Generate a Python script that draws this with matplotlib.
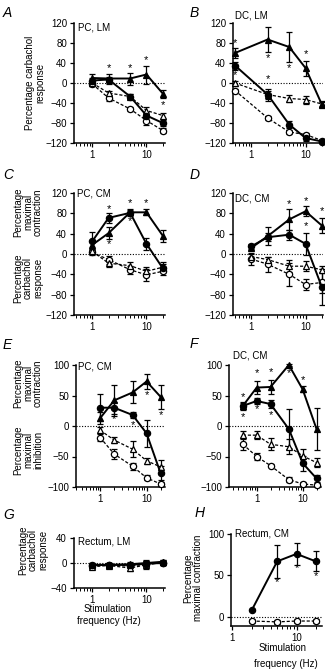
import numpy as np
import matplotlib.pyplot as plt
from matplotlib.ticker import LogLocator, FixedLocator, NullFormatter

plt.rcParams['font.family'] = ['Liberation Sans', 'DejaVu Sans']
plt.rcParams['font.size'] = 7

W, H = 325, 672

# ---- data ----
# series order: filled triangle (solid), filled circle (solid), open triangle (dashed), open circle (dashed)
a_x = [1, 2, 5, 10, 20]
a_ftri = [10, 9, 9, 17, -21];       a_ftri_err = [8, 10, 12, 18, 8]
a_fcirc = [5, 7, -27, -65, -80];    a_fcirc_err = [6, 6, 5, 8, 6]
a_otri = [0, -20, -27, -55, -65];   a_otri_err = [5, 5, 5, 8, 6]
a_ocirc = [-2, -30, -52, -75, -95]; a_ocirc_err = [4, 6, 4, 8, 5]
a_star_x = [2, 5, 10, 20]
a_star_y = [30, 30, 45, -45]

b_x = [0.5, 2, 5, 10, 20]
b_ftri = [60, 87, 72, 30, -43];       b_ftri_err = [10, 25, 30, 15, 5]
b_fcirc = [35, -23, -83, -110, -117]; b_fcirc_err = [8, 12, 7, 5, 3]
b_otri = [0, -23, -31, -33, -42];     b_otri_err = [5, 8, 7, 8, 6]
b_ocirc = [-15, -70, -98, -103, -115]; b_ocirc_err = [4, 4, 4, 4, 3]
b_star_x = [0.5, 0.5, 2, 2, 5, 10]
b_star_y = [80, 15, 50, 8, 30, 57]

c_x = [1, 2, 5, 10, 20]
c_ftri = [18, 41, 82, 82, 36];       c_ftri_err = [8, 12, 7, 6, 12]
c_fcirc = [25, 71, 81, 20, -28];     c_fcirc_err = [18, 10, 5, 12, 8]
c_otri = [5, -18, -23, -34, -26];    c_otri_err = [5, 8, 8, 8, 10]
c_ocirc = [3, -11, -31, -41, -34];   c_ocirc_err = [5, 8, 8, 12, 8]
c_star_x = [2, 2, 5, 5, 10]
c_star_y = [88, 20, 100, 64, 100]

d_x = [1, 2, 5, 10, 20]
d_ftri = [12, 35, 68, 84, 56];       d_ftri_err = [5, 18, 20, 10, 15]
d_fcirc = [15, 33, 38, 20, -65];     d_fcirc_err = [5, 8, 10, 22, 35]
d_otri = [-5, -11, -24, -24, -31];   d_otri_err = [5, 6, 12, 10, 7]
d_ocirc = [-10, -20, -40, -60, -56]; d_ocirc_err = [12, 15, 22, 10, 20]
d_star_x = [5, 10, 10, 20]
d_star_y = [98, 104, 54, 84]

e_x = [1, 2, 5, 10, 20]
e_ftri = [13, 42, 55, 73, 48];       e_ftri_err = [10, 25, 18, 12, 20]
e_fcirc = [30, 30, 18, -12, -77];    e_fcirc_err = [22, 10, 5, 22, 12]
e_otri = [-7, -23, -38, -57, -67];   e_otri_err = [5, 5, 13, 5, 12]
e_ocirc = [-19, -46, -66, -85, -95]; e_ocirc_err = [6, 8, 6, 4, 4]
e_star_x = [2, 5, 10, 20]
e_star_y = [11, 2, 51, 18]

f_x = [0.5, 1, 2, 5, 10, 20]
f_ftri = [33, 63, 64, 100, 60, -5];       f_ftri_err = [5, 10, 12, 2, 5, 35]
f_fcirc = [33, 41, 36, -5, -61, -86];     f_fcirc_err = [7, 5, 7, 33, 12, 6]
f_otri = [-15, -15, -30, -34, -49, -60];  f_otri_err = [6, 7, 10, 12, 12, 8]
f_ocirc = [-30, -50, -65, -88, -95, -97]; f_ocirc_err = [10, 5, 3, 4, 3, 3]
f_star_x = [0.5, 0.5, 1, 1, 2, 2, 5, 10]
f_star_y = [48, 15, 87, 27, 89, 18, 86, 75]

g_x = [1, 2, 5, 10, 20]
g_ftri = [-3, -3, -2, 0, 2];    g_ftri_err = [3, 3, 3, 5, 3]
g_fcirc = [-3, -3, -3, -1, 0];  g_fcirc_err = [3, 3, 3, 5, 3]
g_otri = [-6, -4, -8, -3, 2];   g_otri_err = [3, 3, 4, 6, 3]
g_ocirc = [-4, -3, -5, -2, 0];  g_ocirc_err = [3, 3, 3, 5, 3]

h_x = [2, 5, 10, 20]
h_fcirc = [8, 67, 76, 67];    h_fcirc_err = [0, 20, 13, 12]
h_ocirc = [-5, -6, -5, -5];   h_ocirc_err = [2, 2, 2, 2]
h_star_x = [5, 10, 20]
h_star_y = [42, 59, 49]

yt_120 = [-120, -80, -40, 0, 40, 80, 120]
yt_100 = [-100, -50, 0, 50, 100]

fig = plt.figure(figsize=(W / 100, H / 100), dpi=100)


def px_axes(l, t, r, b):
    return fig.add_axes([l / W, 1 - b / H, (r - l) / W, (b - t) / H])


def ftext(x, y, s, **kw):
    fig.text(x / W, 1 - y / H, s, **kw)


def style(ax, xlim, ylim, yticks):
    ax.set_xscale('log')
    ax.set_xlim(*xlim)
    ax.set_ylim(*ylim)
    ax.set_yticks(yticks)
    ax.xaxis.set_major_locator(FixedLocator([1, 10]))
    ax.set_xticklabels(['1', '10'])
    ax.xaxis.set_minor_locator(LogLocator(base=10, subs=np.arange(2, 10)))
    ax.xaxis.set_minor_formatter(NullFormatter())
    for s in ['top', 'right']:
        ax.spines[s].set_visible(False)
    for s in ['left', 'bottom']:
        ax.spines[s].set_linewidth(1.1)
    ax.tick_params(which='major', length=3, width=0.9, pad=2, labelsize=7)
    ax.tick_params(which='minor', length=2, width=0.7)
    ax.axhline(0, color='black', lw=0.8, ls=(0, (1, 1.5)), zorder=1)
    ax.patch.set_alpha(0)


def series(ax, x, y, err, marker, filled, dashed):
    ax.errorbar(x, y, yerr=err, color='black', lw=1.4 if not dashed else 0.9,
                ls=(0, (2.5, 1.5)) if dashed else '-', marker=marker, ms=4.5,
                mfc='black' if filled else 'white', mec='black', mew=0.9,
                elinewidth=0.9, capsize=2, capthick=0.9, clip_on=False, zorder=3)


def four(ax, x, ftri, ftri_e, fcirc, fcirc_e, otri, otri_e, ocirc, ocirc_e):
    series(ax, x, ocirc, ocirc_e, 'o', False, True)
    series(ax, x, otri, otri_e, '^', False, True)
    series(ax, x, fcirc, fcirc_e, 'o', True, False)
    series(ax, x, ftri, ftri_e, '^', True, False)


def stars(ax, sx, sy):
    for xx, yy in zip(sx, sy):
        ax.text(xx, yy, '*', ha='center', va='center', fontsize=8, zorder=4)


# ---- A ----
axA = px_axes(74, 23, 165, 143)
style(axA, (0.46, 22), (-120, 120), yt_120)
four(axA, a_x, a_ftri, a_ftri_err, a_fcirc, a_fcirc_err, a_otri, a_otri_err, a_ocirc, a_ocirc_err)
stars(axA, a_star_x, a_star_y)

# ---- B ----
axB = px_axes(233, 23, 323, 143)
style(axB, (0.46, 21), (-120, 120), yt_120)
four(axB, b_x, b_ftri, b_ftri_err, b_fcirc, b_fcirc_err, b_otri, b_otri_err, b_ocirc, b_ocirc_err)
stars(axB, b_star_x, b_star_y)

# ---- C ----
axC = px_axes(74, 193, 165, 315)
style(axC, (0.46, 22), (-120, 120), yt_120)
four(axC, c_x, c_ftri, c_ftri_err, c_fcirc, c_fcirc_err, c_otri, c_otri_err, c_ocirc, c_ocirc_err)
stars(axC, c_star_x, c_star_y)

# ---- D ----
axD = px_axes(233, 193, 323, 315)
style(axD, (0.46, 21), (-120, 120), yt_120)
four(axD, d_x, d_ftri, d_ftri_err, d_fcirc, d_fcirc_err, d_otri, d_otri_err, d_ocirc, d_ocirc_err)
stars(axD, d_star_x, d_star_y)

# ---- E ----
axE = px_axes(76, 365, 165, 487)
style(axE, (0.3, 25), (-100, 100), yt_100)
four(axE, e_x, e_ftri, e_ftri_err, e_fcirc, e_fcirc_err, e_otri, e_otri_err, e_ocirc, e_ocirc_err)
stars(axE, e_star_x, e_star_y)

# ---- F ----
axF = px_axes(229, 365, 321, 487)
style(axF, (0.25, 25), (-100, 100), yt_100)
four(axF, f_x, f_ftri, f_ftri_err, f_fcirc, f_fcirc_err, f_otri, f_otri_err, f_ocirc, f_ocirc_err)
stars(axF, f_star_x, f_star_y)

# ---- G ----
axG = px_axes(74, 538, 165, 588)
style(axG, (0.46, 22), (-40, 40), [-40, 0, 40])
four(axG, g_x, g_ftri, g_ftri_err, g_fcirc, g_fcirc_err, g_otri, g_otri_err, g_ocirc, g_ocirc_err)

# ---- H ----
axH = px_axes(231, 534, 322, 626)
style(axH, (0.95, 25), (-11, 100), [0, 50, 100])
series(axH, h_x, h_ocirc, h_ocirc_err, 'o', False, True)
series(axH, h_x, h_fcirc, h_fcirc_err, 'o', True, False)
stars(axH, h_star_x, h_star_y)

# ---- panel letters ----
for lx, ly, s in [(3, 13, 'A'), (190, 13, 'B'), (3, 175, 'C'), (190, 175, 'D'),
                  (3, 345, 'E'), (190, 344, 'F'), (3, 515, 'G'), (195, 513, 'H')]:
    ftext(lx, ly, s, fontsize=10, style='italic', ha='left', va='center')

# ---- titles inside panels ----
for lx, ly, s in [(78, 27, 'PC, LM'), (235, 15, 'DC, LM'), (77, 194, 'PC, CM'),
                  (235, 198, 'DC, CM'), (78, 367, 'PC, CM'), (233, 355, 'DC, CM'),
                  (78, 542, 'Rectum, LM'), (235, 533, 'Rectum, CM')]:
    ftext(lx, ly, s, fontsize=7, ha='left', va='center')

# ---- y labels ----
lab = dict(rotation=90, ha='center', va='center', multialignment='center', fontsize=7, linespacing=1.0)
ftext(35, 83, 'Percentage carbachol\nresponse', **lab)
ftext(28, 212, 'Percentage\nmaximal\ncontraction', **lab)
ftext(28, 278, 'Percentage\ncarbachol\nresponse', **lab)
ftext(28, 383, 'Percentage\nmaximal\ncontraction', **lab)
ftext(28, 450, 'Percentage\nmaximal\ninhibition', **lab)
ftext(33, 550, 'Percentage\ncarbachol\nresponse', **lab)
ftext(193, 578, 'Percentage\nmaximal contraction', **lab)

# ---- x labels ----
ftext(108, 609, 'Stimulation', ha='center', va='center', fontsize=7)
ftext(109, 621, 'frequency (Hz)', ha='center', va='center', fontsize=7)
ftext(283, 648, 'Stimulation', ha='center', va='center', fontsize=7)
ftext(286, 664, 'frequency (Hz)', ha='center', va='center', fontsize=7)

fig.savefig('out.png', dpi=100)
